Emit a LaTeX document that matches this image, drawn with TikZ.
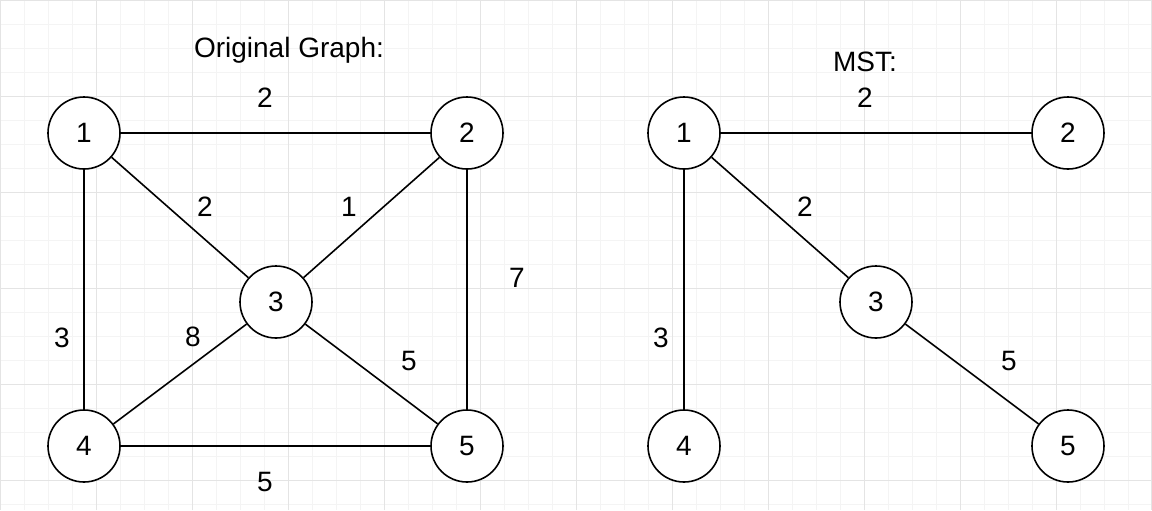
\documentclass[tikz,border=0pt]{standalone}
\usepackage{fontspec}
\setmainfont{Liberation Sans}
\definecolor{gridminor}{HTML}{F4F4F4}
\definecolor{gridmajor}{HTML}{E4E4E4}
\tikzset{
  vertex/.style={draw,circle,line width=0.8pt,minimum size=36pt,inner sep=0pt,fill=white},
  edge/.style={line width=0.8pt},
  weight/.style={inner sep=0pt}
}
\begin{document}
\begin{tikzpicture}[x=0.5pt,y=-0.5pt,font=\fontsize{14}{16}\selectfont]
        \useasboundingbox (0,0) rectangle (1152,510);
        %% Grid
        \fill[white] (0,0) rectangle (1152,510);
        \draw[gridminor,line width=0.4pt,step=12pt] (0,0) grid (1152,510);
        \draw[gridmajor,line width=0.5pt,step=48pt] (0,0) grid (1152,510);
        %% Titles
        \node (title1) at (289,50) {Original Graph:};
        \node (title2) at (865,62) {MST:};
        %% Original graph
        \node[vertex] (o1) at (84,133) {1};
        \node[vertex] (o2) at (467,133) {2};
        \node[vertex] (o3) at (276,302) {3};
        \node[vertex] (o4) at (84,446) {4};
        \node[vertex] (o5) at (467,446) {5};
        \draw[edge] (o1) -- (o2);
        \draw[edge] (o1) -- (o3);
        \draw[edge] (o1) -- (o4);
        \draw[edge] (o2) -- (o3);
        \draw[edge] (o2) -- (o5);
        \draw[edge] (o3) -- (o4);
        \draw[edge] (o3) -- (o5);
        \draw[edge] (o4) -- (o5);
        \node[weight] (w12) at (265,98) {2};
        \node[weight] (w13) at (205,207) {2};
        \node[weight] (w23) at (349,207) {1};
        \node[weight] (w25) at (517,278) {7};
        \node[weight] (w14) at (62,338) {3};
        \node[weight] (w34) at (193,337) {8};
        \node[weight] (w35) at (409,361) {5};
        \node[weight] (w45) at (265,482) {5};
        %% MST
        \node[vertex] (m1) at (684,133) {1};
        \node[vertex] (m2) at (1068,133) {2};
        \node[vertex] (m3) at (876,302) {3};
        \node[vertex] (m4) at (684,446) {4};
        \node[vertex] (m5) at (1068,446) {5};
        \draw[edge] (m1) -- (m2);
        \draw[edge] (m1) -- (m3);
        \draw[edge] (m1) -- (m4);
        \draw[edge] (m3) -- (m5);
        \node[weight] (v12) at (865,98) {2};
        \node[weight] (v13) at (805,207) {2};
        \node[weight] (v14) at (661,338) {3};
        \node[weight] (v35) at (1009,361) {5};
\end{tikzpicture}
\end{document}
